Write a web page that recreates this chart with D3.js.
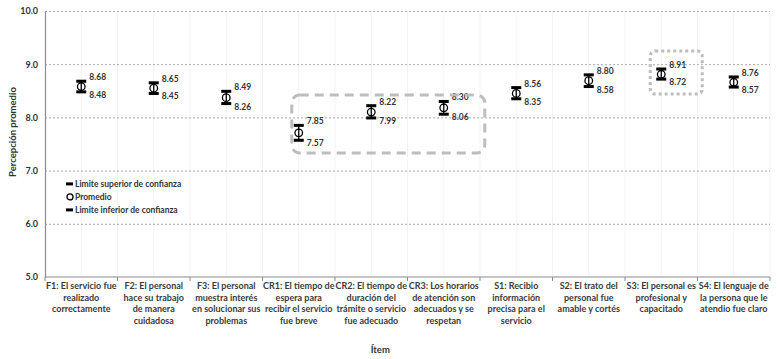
<!DOCTYPE html>
<html>
<head>
<meta charset="utf-8">
<script src="https://cdn.jsdelivr.net/npm/d3@7"></script>
<style>
  html, body { margin: 0; padding: 0; background: #fff; }
  svg { display: block; font-family: Lato, "Open Sans", sans-serif; }
</style>
</head>
<body>
<svg id="chart" width="777" height="359"></svg>
<script>
// Ítems evaluados (etiquetas en varias líneas)
const items = [
  ["F1: El servicio fue", "realizado", "correctamente"],
  ["F2: El personal", "hace su trabajo", "de manera", "cuidadosa"],
  ["F3: El personal", "muestra interés", "en solucionar sus", "problemas"],
  ["CR1: El tiempo de", "espera para", "recibir el servicio", "fue breve"],
  ["CR2: El tiempo de", "duración del", "trámite o servicio", "fue adecuado"],
  ["CR3: Los horarios", "de atención son", "adecuados y se", "respetan"],
  ["S1: Recibio", "información", "precisa para el", "servicio"],
  ["S2: El trato del", "personal fue", "amable y cortés"],
  ["S3: El personal es", "profesional y", "capacitado"],
  ["S4: El lenguaje de", "la persona que le", "atendio fue claro"]
];
const itemIds = ["F1", "F2", "F3", "CR1", "CR2", "CR3", "S1", "S2", "S3", "S4"];
const upperLimit = [8.68, 8.65, 8.49, 7.85, 8.22, 8.30, 8.56, 8.80, 8.91, 8.76];
const lowerLimit = [8.48, 8.45, 8.26, 7.57, 7.99, 8.06, 8.35, 8.58, 8.72, 8.57];
const meanValue  = [8.58, 8.55, 8.37, 7.71, 8.10, 8.18, 8.45, 8.69, 8.81, 8.66];
const yTicks = [5, 6, 7, 8, 9, 10];
const legendItems = ["Limite superior de confianza", "Promedio", "Limite inferior de confianza"];

const svg = d3.select("#chart");
const margin = { left: 45, right: 7, top: 11, bottom: 82 };
const W = 777, H = 359;
const plotW = W - margin.left - margin.right;
const plotH = H - margin.top - margin.bottom;

const x = d3.scaleBand().domain(itemIds).range([margin.left, margin.left + plotW]);
const y = d3.scaleLinear().domain([5, 10]).range([margin.top + plotH, margin.top]);
const cx = id => x(id) + x.bandwidth() / 2;

// faint vertical guide lines
const g0 = svg.append("g");
itemIds.forEach(id => {
  [x(id) + x.bandwidth() * 0.5, x(id) + x.bandwidth()].forEach(px => {
    g0.append("line").attr("x1", px).attr("x2", px)
      .attr("y1", y(10)).attr("y2", y(5))
      .attr("stroke", "#f3f3f3").attr("stroke-width", 1);
  });
});

// horizontal dashed grid
svg.append("g").selectAll("line").data(yTicks.filter(t => t > 5)).join("line")
  .attr("x1", margin.left).attr("x2", margin.left + plotW)
  .attr("y1", d => y(d) + 0.5).attr("y2", d => y(d) + 0.5)
  .attr("stroke", "#a8a8a8").attr("stroke-width", 1).attr("stroke-dasharray", "2,2");

// y axis
const yAxis = svg.append("g").attr("transform", `translate(${margin.left},0)`)
  .call(d3.axisLeft(y).tickValues(yTicks).tickFormat(d3.format(".1f")).tickSize(0).tickPadding(7));
yAxis.select(".domain").attr("stroke", "#8c8c8c").attr("stroke-width", 1.2);
yAxis.selectAll("text").attr("font-size", 9).attr("font-weight", "bold").attr("fill", "#333")
  .attr("font-family", "Lato, sans-serif");

// x axis with ticks at category boundaries
const xAxisG = svg.append("g").attr("transform", `translate(0,${y(5)})`);
xAxisG.append("line").attr("x1", margin.left).attr("x2", margin.left + plotW)
  .attr("y1", 0).attr("y2", 0).attr("stroke", "#8c8c8c").attr("stroke-width", 1.2);
itemIds.forEach(id => {
  const px = x(id) + x.bandwidth();
  xAxisG.append("line").attr("x1", px).attr("x2", px).attr("y1", 0).attr("y2", 4)
    .attr("stroke", "#8c8c8c");
});
xAxisG.append("line").attr("x1", margin.left).attr("x2", margin.left).attr("y1", 0).attr("y2", 4)
  .attr("stroke", "#8c8c8c");

// category labels
itemIds.forEach((id, i) => {
  const t = xAxisG.append("text").attr("x", cx(id)).attr("y", 12)
    .attr("text-anchor", "middle").attr("font-size", 9).attr("font-weight", "bold").attr("fill", "#3a3a3a");
  items[i].forEach((line, k) => {
    t.append("tspan").attr("x", cx(id)).attr("dy", k === 0 ? 0 : 11.5).text(line);
  });
});

// axis titles
svg.append("text").attr("x", cx("CR2") + 9).attr("y", 353).attr("text-anchor", "middle")
  .attr("font-size", 9.5).attr("font-weight", "bold").attr("fill", "#333").text("Ítem");
svg.append("text").attr("transform", `translate(16,${y(7.5) - 12}) rotate(-90)`)
  .attr("text-anchor", "middle").attr("font-size", 9.5).attr("font-weight", "bold").attr("fill", "#333")
  .text("Percepción promedio");

// confidence interval markers
const marks = svg.append("g");
itemIds.forEach((id, i) => {
  const px = cx(id);
  const yu = y(upperLimit[i]), yl = y(lowerLimit[i]), ym = y(meanValue[i]);
  marks.append("line").attr("x1", px).attr("x2", px).attr("y1", yu).attr("y2", yl)
    .attr("stroke", "#000").attr("stroke-width", 1.3);
  marks.append("rect").attr("x", px - 5).attr("y", yu - 1.5).attr("width", 10).attr("height", 3).attr("fill", "#000");
  marks.append("rect").attr("x", px - 5).attr("y", yl - 1.5).attr("width", 10).attr("height", 3).attr("fill", "#000");
  marks.append("circle").attr("cx", px).attr("cy", ym).attr("r", 3.8)
    .attr("fill", "none").attr("stroke", "#000").attr("stroke-width", 1.3);
  marks.append("text").attr("x", px + 8).attr("y", yu - 1).attr("font-size", 8.5).attr("font-weight", "bold")
    .attr("fill", "#333").text(upperLimit[i].toFixed(2));
  marks.append("text").attr("x", px + 8).attr("y", yl + 6).attr("font-size", 8.5).attr("font-weight", "bold")
    .attr("fill", "#333").text(lowerLimit[i].toFixed(2));
});

// highlight boxes
const boxA = { x0: x("CR1") + x.bandwidth() / 2 - 7, x1: x("CR3") + x.bandwidth() / 2 + 41, v0: 8.42, v1: 7.33 };
svg.append("rect").attr("x", boxA.x0).attr("y", y(boxA.v0))
  .attr("width", boxA.x1 - boxA.x0).attr("height", y(boxA.v1) - y(boxA.v0))
  .attr("rx", 8).attr("fill", "none").attr("stroke", "#bdbdbd").attr("stroke-width", 3)
  .attr("stroke-dasharray", "9,6");
const boxB = { x0: x("S3") + x.bandwidth() / 2 - 11, x1: x("S3") + x.bandwidth() / 2 + 41, v0: 9.25, v1: 8.44 };
svg.append("rect").attr("x", boxB.x0).attr("y", y(boxB.v0))
  .attr("width", boxB.x1 - boxB.x0).attr("height", y(boxB.v1) - y(boxB.v0))
  .attr("rx", 5).attr("fill", "none").attr("stroke", "#bdbdbd").attr("stroke-width", 3)
  .attr("stroke-dasharray", "3,3");

// legend
const lg = svg.append("g").attr("transform", `translate(66,${y(6.75)})`);
legendItems.forEach((name, i) => {
  const gy = i * 13;
  if (i === 1) {
    lg.append("circle").attr("cx", 4).attr("cy", gy).attr("r", 3).attr("fill", "none")
      .attr("stroke", "#000").attr("stroke-width", 1.3);
  } else {
    lg.append("rect").attr("x", 0).attr("y", gy - 1.5).attr("width", 7).attr("height", 3).attr("fill", "#000");
  }
  lg.append("text").attr("x", 9).attr("y", gy + 3.2).attr("font-size", 8.5).attr("font-weight", "bold")
    .attr("fill", "#333").text(name);
});
</script>
</body>
</html>
